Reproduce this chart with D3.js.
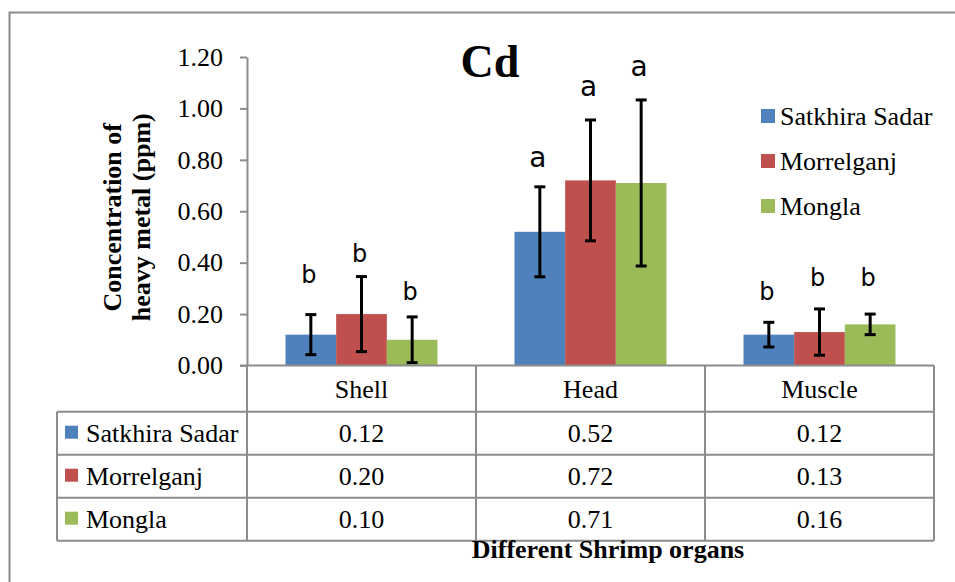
<!DOCTYPE html>
<html>
<head>
<meta charset="utf-8">
<script src="https://cdn.jsdelivr.net/npm/d3@7"></script>
<style>
  body { margin: 0; background: #fff; }
  svg { display: block; }
</style>
</head>
<body>
<svg id="chart" width="955" height="582"></svg>
<script>
// Cd concentration (ppm) in shrimp organs at three sampling sites
const organs = ["Shell", "Head", "Muscle"];
const sites = ["Satkhira Sadar", "Morrelganj", "Mongla"];

const satkhiraMean = [0.12, 0.52, 0.12];
const morrelganjMean = [0.20, 0.72, 0.13];
const monglaMean = [0.10, 0.71, 0.16];

// standard deviations shown as error bars
const satkhiraSD = [0.078, 0.175, 0.048];
const morrelganjSD = [0.146, 0.235, 0.090];
const monglaSD = [0.089, 0.323, 0.040];

// significance groups (letters) and the ppm level each letter sits at
const satkhiraGroup = ["b", "a", "b"];
const morrelganjGroup = ["b", "a", "b"];
const monglaGroup = ["b", "a", "b"];
const satkhiraLetterAt = [0.32, 0.774, 0.255];
const morrelganjLetterAt = [0.404, 1.047, 0.311];
const monglaLetterAt = [0.255, 1.127, 0.311];

const yTicks = [0, 0.2, 0.4, 0.6, 0.8, 1.0, 1.2];
const siteColors = ["#4F81BD", "#C0504D", "#9BBB59"];

const means = [satkhiraMean, morrelganjMean, monglaMean];
const sds = [satkhiraSD, morrelganjSD, monglaSD];
const groups = [satkhiraGroup, morrelganjGroup, monglaGroup];
const letterAt = [satkhiraLetterAt, morrelganjLetterAt, monglaLetterAt];

const records = [];
sites.forEach((s, si) => organs.forEach((o, oi) => records.push({
  site: s, si, organ: o, value: means[si][oi], sd: sds[si][oi],
  letter: groups[si][oi], letterAt: letterAt[si][oi]
})));

const serif = "'Liberation Serif', 'Times New Roman', serif";
const gridColor = "#8c8c8c";
const textSize = "26px";

const svg = d3.select("#chart");

// outer chart frame
svg.append("rect")
  .attr("x", 9.5).attr("y", 12.5).attr("width", 980).attr("height", 620)
  .attr("fill", "none").attr("stroke", gridColor).attr("stroke-width", 2);

const plotLeft = 247, plotRight = 934, plotTop = 57, plotBottom = 365.5;
const x0 = d3.scaleBand().domain(organs).range([plotLeft, plotRight]).padding(0);
const x1 = d3.scaleBand().domain(sites).range([0, x0.bandwidth()])
  .paddingInner(0).paddingOuter(0.76);
const y = d3.scaleLinear().domain([0, 1.2]).range([plotBottom, plotTop]);

// y axis
const yAxis = svg.append("g")
  .attr("transform", `translate(${plotLeft},0)`)
  .call(d3.axisLeft(y).tickValues(yTicks).tickFormat(d3.format(".2f"))
    .tickSize(7).tickSizeOuter(0).tickPadding(17));
yAxis.select(".domain").attr("stroke", gridColor).attr("stroke-width", 2);
yAxis.selectAll(".tick line").attr("stroke", gridColor).attr("stroke-width", 2);
yAxis.selectAll(".tick text")
  .attr("fill", "#000").style("font-family", serif).style("font-size", textSize);

// bars
svg.append("g").selectAll("rect").data(records).join("rect")
  .attr("x", d => x0(d.organ) + x1(d.site))
  .attr("y", d => y(d.value))
  .attr("width", x1.bandwidth())
  .attr("height", d => y(0) - y(d.value))
  .attr("fill", d => siteColors[d.si]);

// error bars
const capHalf = 5.5;
const err = svg.append("g").attr("stroke", "#000").attr("stroke-width", 3);
records.forEach(d => {
  const cx = x0(d.organ) + x1(d.site) + x1.bandwidth() / 2;
  const yt = y(d.value + d.sd), yb = y(Math.max(0, d.value - d.sd));
  err.append("line").attr("x1", cx).attr("x2", cx).attr("y1", yt).attr("y2", yb);
  err.append("line").attr("x1", cx - capHalf).attr("x2", cx + capHalf).attr("y1", yt).attr("y2", yt);
  err.append("line").attr("x1", cx - capHalf).attr("x2", cx + capHalf).attr("y1", yb).attr("y2", yb);
});

// significance letters
svg.append("g").selectAll("text").data(records).join("text")
  .attr("x", d => x0(d.organ) + x1(d.site) + x1.bandwidth() / 2 - 2)
  .attr("y", d => y(d.letterAt))
  .attr("text-anchor", "middle")
  .style("font-family", "'DejaVu Sans', sans-serif")
  .style("font-size", d => d.letter === "a" ? "28px" : "24px")
  .text(d => d.letter);

// data table below the plot
const tableLeft = 57, headerBottom = 411.7, rowH = 43;
const tableBottom = headerBottom + rowH * sites.length;
const tbl = svg.append("g").attr("stroke", gridColor).attr("stroke-width", 2);
// horizontal rules
tbl.append("line").attr("x1", 240).attr("x2", plotRight).attr("y1", plotBottom).attr("y2", plotBottom);
d3.range(sites.length + 1).forEach(i => {
  const yy = headerBottom + i * rowH;
  tbl.append("line").attr("x1", tableLeft).attr("x2", plotRight).attr("y1", yy).attr("y2", yy);
});
// vertical rules
tbl.append("line").attr("x1", tableLeft).attr("x2", tableLeft).attr("y1", headerBottom).attr("y2", tableBottom);
organs.forEach(o => {
  tbl.append("line").attr("x1", x0(o)).attr("x2", x0(o)).attr("y1", plotBottom).attr("y2", tableBottom);
});
tbl.append("line").attr("x1", plotRight).attr("x2", plotRight).attr("y1", plotBottom).attr("y2", tableBottom);

// header labels
svg.append("g").selectAll("text").data(organs).join("text")
  .attr("x", d => x0(d) + x0.bandwidth() / 2)
  .attr("y", plotBottom + 32)
  .attr("text-anchor", "middle")
  .style("font-family", serif).style("font-size", textSize)
  .text(d => d);

// row keys and names
const rows = svg.append("g");
sites.forEach((s, si) => {
  const top = headerBottom + si * rowH;
  rows.append("rect").attr("x", 65).attr("y", top + 14).attr("width", 13).attr("height", 13)
    .attr("fill", siteColors[si]);
  rows.append("text").attr("x", 86).attr("y", top + 30)
    .style("font-family", serif).style("font-size", textSize).text(s);
});

// table values
svg.append("g").selectAll("text").data(records).join("text")
  .attr("x", d => x0(d.organ) + x0.bandwidth() / 2)
  .attr("y", d => headerBottom + d.si * rowH + 30)
  .attr("text-anchor", "middle")
  .style("font-family", serif).style("font-size", textSize)
  .text(d => d3.format(".2f")(d.value));

// legend
const legend = svg.append("g");
sites.forEach((s, si) => {
  legend.append("rect").attr("x", 761).attr("y", 109 + si * 45).attr("width", 14).attr("height", 14)
    .attr("fill", siteColors[si]);
  legend.append("text").attr("x", 780).attr("y", 125 + si * 45)
    .style("font-family", serif).style("font-size", textSize).text(s);
});

// title
svg.append("text").attr("x", 490).attr("y", 77).attr("text-anchor", "middle")
  .style("font-family", serif).style("font-size", "46px").style("font-weight", "bold")
  .text("Cd");

// y-axis title (two lines)
const yTitle = svg.append("text")
  .attr("transform", `translate(121,${(plotTop + plotBottom) / 2 + 6}) rotate(-90)`)
  .attr("text-anchor", "middle")
  .style("font-family", serif).style("font-size", textSize).style("font-weight", "bold");
yTitle.append("tspan").attr("x", 0).attr("y", 0).text("Concentration of");
yTitle.append("tspan").attr("x", 0).attr("y", 29).text("heavy metal (ppm)");

// x-axis title
svg.append("text").attr("x", 608).attr("y", 558).attr("text-anchor", "middle")
  .style("font-family", serif).style("font-size", textSize).style("font-weight", "bold")
  .text("Different Shrimp organs");
</script>
</body>
</html>
